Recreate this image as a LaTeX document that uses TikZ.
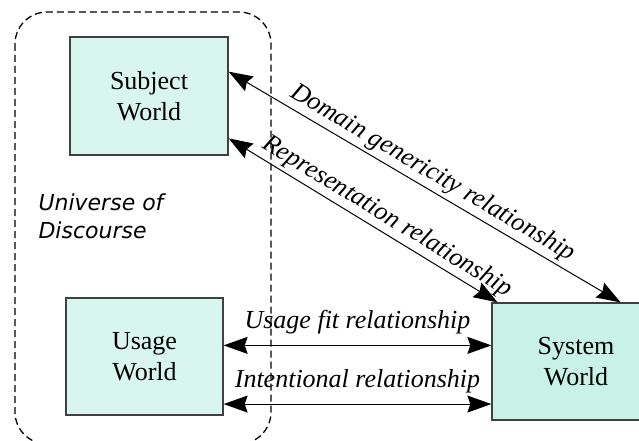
\documentclass[tikz,border=0pt]{standalone}
\usepackage{fontspec}
\setmainfont{Liberation Serif}
\newfontfamily\comicfont{DejaVu Sans}
\usetikzlibrary{arrows.meta}
\definecolor{dotfill}{RGB}{216,246,238}
\definecolor{dashfill}{RGB}{200,242,230}

\begin{document}
\begin{tikzpicture}[x=1pt, y=-1pt,
  world/.style={draw=black!75, line width=1.3pt, align=center, inner sep=0pt,
    font=\fontsize{26}{31}\selectfont},
  rel/.style={<->, >={Stealth[length=24pt, width=17pt, inset=3pt]}, line width=1pt},
  lbl/.style={font=\fontsize{26}{31}\selectfont\itshape}]
\clip (0,0) rectangle (639,441);
\draw [dash pattern=on 7pt off 4pt, line width=1.3pt, rounded corners=32pt] (15,12) rectangle (271,444);
\node [world, fill=dotfill, minimum width=158pt, minimum height=118pt] (v0) at (149,96) {Subject\\World};
\node [world, fill=dotfill, minimum width=157pt, minimum height=117pt] (v1) at (144.5,356.5) {Usage\\World};
\node [world, fill=dashfill, minimum width=168pt, minimum height=117pt] (v2) at (576,361.5) {System\\World};
\node [align=left, font=\comicfont\itshape\fontsize{22}{28}\selectfont] (v3) at (101,216) {Universe of\\Discourse};
\draw [rel] (v0.17) -- node[midway, sloped, above, lbl] {Domain genericity relationship} (v2.53);
\draw [rel] (v0.-28) -- node[pos=0.56, sloped, above, lbl] {Representation relationship} (v2.143);
\draw [rel] (v1.8) -- node[midway, above=8pt, lbl] {Usage fit relationship} (v1.8 -| v2.west);
\draw [rel] (v1.-31) -- node[midway, above=7pt, lbl] {Intentional relationship} (v1.-31 -| v2.west);
\end{tikzpicture}
\end{document}
